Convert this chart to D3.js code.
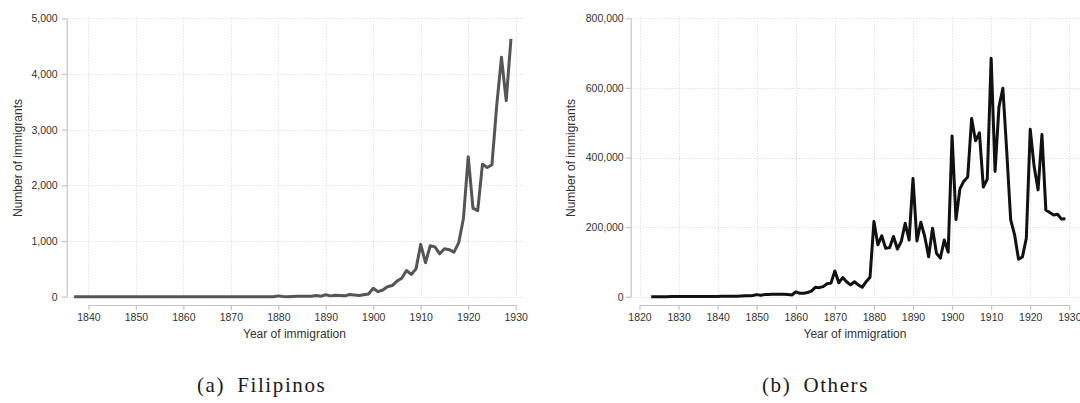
<!DOCTYPE html>
<html>
<head>
<meta charset="utf-8">
<script src="https://cdn.jsdelivr.net/npm/d3@7"></script>
<style>
  html, body { margin: 0; padding: 0; background: #fff; }
  svg { display: block; }
  .tick text { font-family: "Liberation Sans", Arial, sans-serif; fill: #333; }
</style>
</head>
<body>
<script>
// Annual immigrant counts by year of immigration
const filipinoFirstYear = 1837;
const filipinoCounts = [
  0, 0, 0,                                            // 1837-1839
  0, 0, 0, 0, 0, 0, 0, 0, 0, 0,                       // 1840s
  0, 0, 0, 0, 0, 0, 0, 0, 0, 0,                       // 1850s
  0, 0, 0, 0, 0, 0, 0, 0, 0, 0,                       // 1860s
  0, 0, 0, 0, 0, 0, 0, 0, 0, 0,                       // 1870s
  15, 5, 0, 5, 10, 10, 8, 10, 20, 10,                 // 1880s
  35, 15, 25, 20, 15, 40, 30, 20, 35, 50,             // 1890s
  150, 90, 120, 180, 200, 280, 330, 470, 400, 500,    // 1900s
  940, 610, 915, 895, 770, 860, 845, 800, 970, 1410,  // 1910s
  2515, 1590, 1545, 2380, 2320, 2370, 3430, 4300, 3520, 4630 // 1920s
];

const othersFirstYear = 1823;
const othersCounts = [
  100, 100, 200, 200, 200, 300, 300,                                            // 1823-1829
  300, 400, 400, 500, 500, 500, 600, 600, 700, 800,                             // 1830s
  900, 1000, 1100, 1200, 1400, 1600, 2000, 2500, 3000, 3500,                    // 1840s
  6000, 4000, 6000, 6000, 7000, 7000, 7000, 7000, 6000, 5000,                   // 1850s
  14000, 10000, 10000, 12000, 16000, 27000, 26000, 29000, 37000, 39000,         // 1860s
  74000, 40000, 55000, 43000, 34000, 43000, 34000, 27000, 43000, 56000,         // 1870s
  216000, 149000, 175000, 139000, 141000, 173000, 137000, 159000, 211000, 163000, // 1880s
  340000, 160000, 214000, 173000, 115000, 197000, 125000, 111000, 163000, 128000, // 1890s
  462000, 222000, 310000, 332000, 344000, 512000, 448000, 471000, 315000, 338000, // 1900s
  685000, 360000, 546000, 599000, 415000, 221000, 178000, 108000, 114000, 168000, // 1910s
  481000, 374000, 307000, 466000, 249000, 242000, 235000, 237000, 223000, 224000  // 1920s
];

// Axis ticks
const filipinoYearTicks = [1840, 1850, 1860, 1870, 1880, 1890, 1900, 1910, 1920, 1930];
const filipinoValueTicks = [0, 1000, 2000, 3000, 4000, 5000];
const othersYearTicks = [1820, 1830, 1840, 1850, 1860, 1870, 1880, 1890, 1900, 1910, 1920, 1930];
const othersValueTicks = [0, 200000, 400000, 600000, 800000];

// Text
const yTitle = "Number of immigrants";
const xTitle = "Year of immigration";
const captionA = "(a)\u2002Filipinos";
const captionB = "(b)\u2002Others";

const svg = d3.select("body").append("svg")
  .attr("width", 1080).attr("height", 403);

svg.append("rect").attr("width", 1080).attr("height", 403).attr("fill", "#fff");

const fmt = d3.format(",");

function drawPanel(p) {
  const series = p.values.map((v, i) => ({ year: p.firstYear + i, value: v }));
  const x = d3.scaleLinear().domain(d3.extent(p.yearTicks)).range(p.xRange);
  const y = d3.scaleLinear().domain(d3.extent(p.valueTicks)).range(p.yRange);
  const g = svg.append("g");

  // dotted grid
  const grid = g.append("g")
    .attr("stroke", "#d4d4d4").attr("stroke-width", 1)
    .attr("stroke-dasharray", "1,2").attr("fill", "none");
  grid.selectAll("line.h").data(p.valueTicks).join("line")
    .attr("class", "h")
    .attr("x1", p.axisX).attr("x2", p.gridRight)
    .attr("y1", d => Math.round(y(d)) + 0.5).attr("y2", d => Math.round(y(d)) + 0.5);
  grid.selectAll("line.v").data(p.yearTicks).join("line")
    .attr("class", "v")
    .attr("x1", d => Math.round(x(d)) + 0.5).attr("x2", d => Math.round(x(d)) + 0.5)
    .attr("y1", p.yRange[1]).attr("y2", p.yRange[0]);

  // y axis
  const yAxis = g.append("g")
    .attr("transform", `translate(${p.axisX},0)`)
    .call(d3.axisLeft(y).tickValues(p.valueTicks).tickFormat(fmt)
      .tickSize(5).tickSizeOuter(0).tickPadding(p.yPad));
  // x axis
  const xAxis = g.append("g")
    .attr("transform", `translate(0,${p.axisY})`)
    .call(d3.axisBottom(x).tickValues(p.yearTicks).tickFormat(d3.format("d"))
      .tickSize(5).tickSizeOuter(0).tickPadding(4));
  [yAxis, xAxis].forEach(a => {
    a.selectAll("path.domain").attr("stroke", "#c4c4c4").attr("stroke-width", 1.2);
    a.selectAll(".tick line").attr("stroke", "#c4c4c4").attr("stroke-width", 1.2);
    a.selectAll(".tick text").attr("font-size", 10.5).attr("fill", "#333");
  });

  // series line
  g.append("path")
    .datum(series)
    .attr("fill", "none")
    .attr("stroke", p.color)
    .attr("stroke-width", 3)
    .attr("stroke-linejoin", "round")
    .attr("d", d3.line().x(d => x(d.year)).y(d => y(d.value)));

  // axis titles
  g.append("text")
    .attr("transform", `translate(${p.yTitleX},158) rotate(-90)`)
    .attr("text-anchor", "middle").attr("dy", "0.35em")
    .attr("font-family", "Liberation Sans, Arial, sans-serif")
    .attr("font-size", 12).attr("fill", "#333")
    .text(yTitle);
  g.append("text")
    .attr("x", p.xTitleX).attr("y", 338)
    .attr("text-anchor", "middle")
    .attr("font-family", "Liberation Sans, Arial, sans-serif")
    .attr("font-size", 12).attr("fill", "#333")
    .text(xTitle);

  // caption
  svg.append("text")
    .attr("x", p.captionX).attr("y", 392)
    .attr("font-family", "Liberation Serif, serif")
    .attr("font-size", 21).attr("letter-spacing", 1.6).attr("fill", "#1a1a1a")
    .text(p.caption);
}

drawPanel({
  values: filipinoCounts, firstYear: filipinoFirstYear,
  yearTicks: filipinoYearTicks, valueTicks: filipinoValueTicks,
  xRange: [88.4, 515.7], yRange: [296.7, 18.3],
  axisX: 66.7, axisY: 305, gridRight: 523, yPad: 4,
  color: "#555555", yTitleX: 17.5, xTitleX: 294.5,
  caption: captionA, captionX: 197
});

drawPanel({
  values: othersCounts, firstYear: othersFirstYear,
  yearTicks: othersYearTicks, valueTicks: othersValueTicks,
  xRange: [639.5, 1069.3], yRange: [296.7, 18.3],
  axisX: 630.7, axisY: 305, gridRight: 1080, yPad: 2,
  color: "#111111", yTitleX: 571, xTitleX: 855,
  caption: captionB, captionX: 762
});
</script>
</body>
</html>
